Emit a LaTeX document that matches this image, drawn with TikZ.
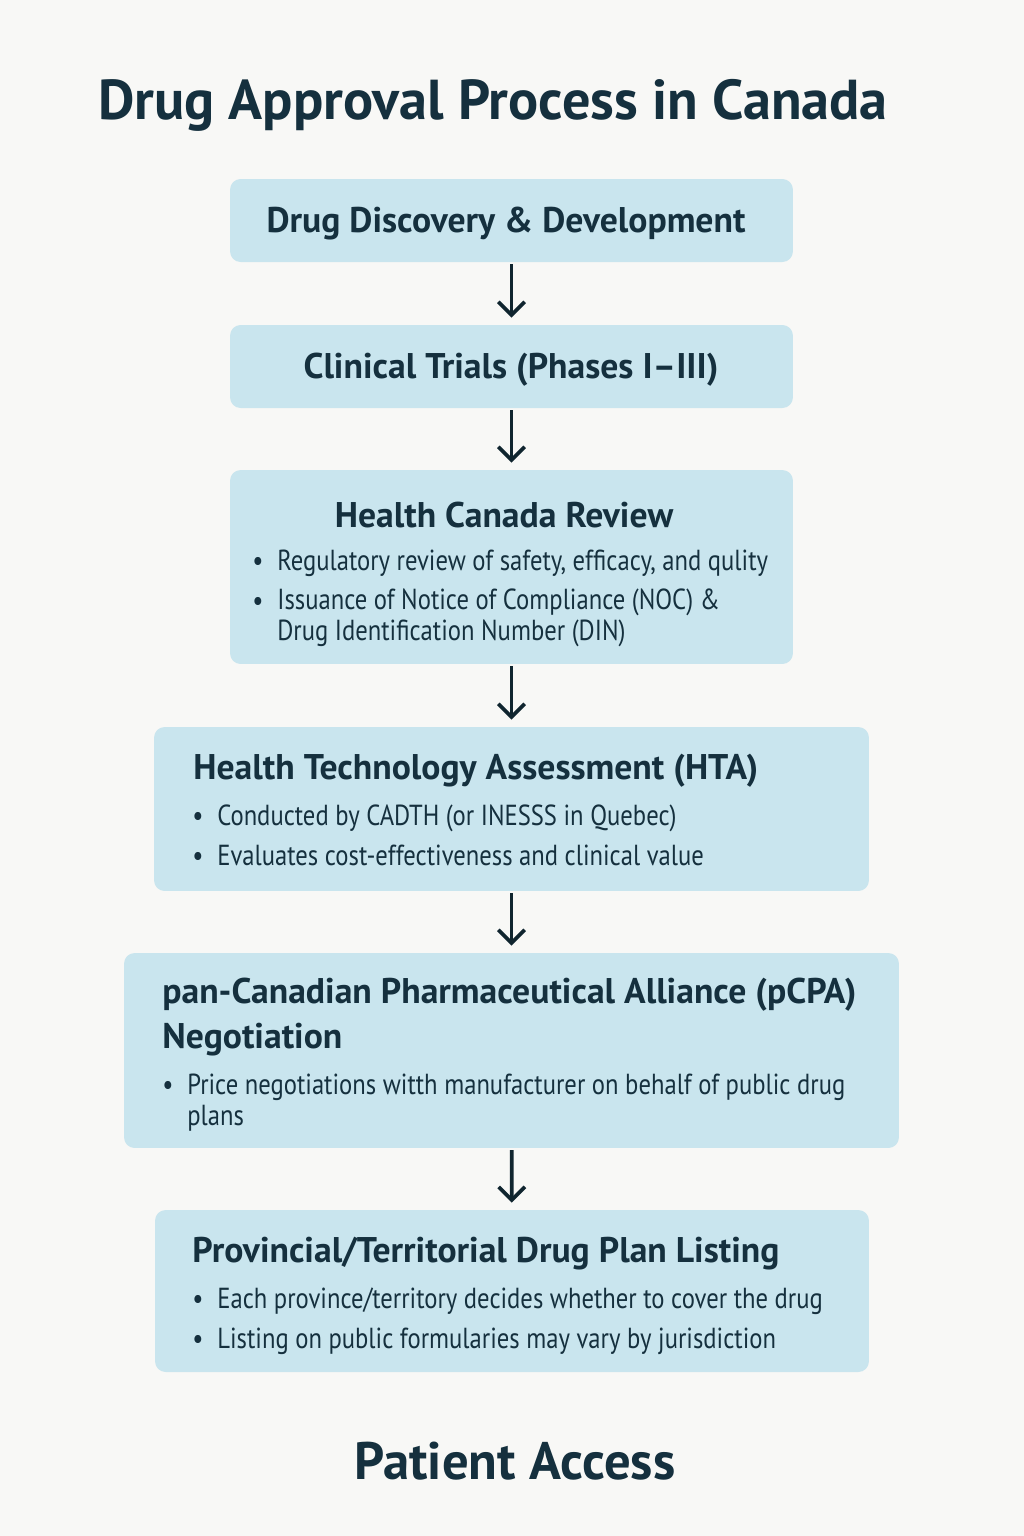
\documentclass[tikz,border=0pt]{standalone}
\usepackage{fontspec}
\setmainfont{PT Sans}
\newfontfamily\headfont[Ligatures=TeX]{PT Sans}
\newfontfamily\bodyfont[Ligatures=TeX,FakeStretch=0.85]{PT Sans}
\usetikzlibrary{arrows.meta,positioning}
\definecolor{Ink}{HTML}{15303E}
\definecolor{InkDark}{HTML}{10252F}
\definecolor{Sky}{HTML}{C9E5EE}
\definecolor{Paper}{HTML}{F8F8F6}

\tikzset{
  stage/.style={rounded corners=6pt,fill=Sky,draw=none},
  head/.style={font=\headfont\fontsize{20.3}{24}\selectfont\bfseries,text=Ink,inner sep=0pt},
  item/.style={font=\bodyfont\fontsize{16.5}{17.4}\selectfont,text=Ink,inner sep=0pt,
               anchor=base west,align=left},
  dot/.style={font=\bodyfont\fontsize{16.5}{17.4}\selectfont,text=Ink,inner sep=0pt,anchor=base},
  flow/.style={InkDark,line width=2.1pt,-{Straight Barb[length=7.5pt,width=15pt]},
               shorten <=1pt,shorten >=4pt},
}

\begin{document}
\begin{tikzpicture}[x=0.02cm,y=-0.02cm]
        \fill[Paper] (0,0) rectangle (1024,1536);
        \useasboundingbox (0,0) rectangle (1024,1536);
        \node[font=\headfont\fontsize{32}{38}\selectfont\bfseries,text=Ink] (title) at (493,105)
              {Drug Approval Process in Canada};

        % stages
        \node[stage,minimum width=11.26cm,minimum height=1.66cm] (disc) at (511.5,220.5) {};
        \node[stage,minimum width=11.26cm,minimum height=1.66cm] (trial) at (511.5,366.5) {};
        \node[stage,minimum width=11.26cm,minimum height=3.88cm] (hc) at (511.5,567) {};
        \node[stage,minimum width=14.30cm,minimum height=3.28cm] (hta) at (511.5,809) {};
        \node[stage,minimum width=15.50cm,minimum height=3.90cm] (pcpa) at (511.5,1050.5) {};
        \node[stage,minimum width=14.28cm,minimum height=3.24cm] (plan) at (512,1291) {};

        \node[head] (discT) at (506,224) {Drug Discovery \& Development};
        \node[head] (trialT) at (511,370) {Clinical Trials (Phases I–III)};
        \node[head] (hcT) at (504,515) {Health Canada Review};
        \node[head,anchor=west] (htaT) at (193,771) {Health Technology Assessment (HTA)};
        \node[head,anchor=west,align=left] (pcpaT) at (162,1017)
              {pan-Canadian Pharmaceutical Alliance (pCPA)\\[2pt]Negotiation};
        \node[head,anchor=west] (planT) at (192,1254) {Provincial/Territorial Drug Plan Listing};

        % bullets: dot x / text x / first baseline / last baseline / text
        \foreach \d/\x/\b/\y/\t in {258/277/570/570/{Regulatory review of safety, efficacy, and qulity},
                                    258/277/610/640/{Issuance of Notice of Compliance (NOC) \&\\Drug Identification Number (DIN)},
                                    198/217/825/825/{Conducted by CADTH (or INESSS in Quebec)},
                                    198/217/865/865/{Evaluates cost-effectiveness and clinical value},
                                    168/187/1094/1125/{Price negotiations witth manufacturer on behalf of public drug\\plans},
                                    198/217/1308/1308/{Each province/territory decides whether to cover the drug},
                                    198/217/1348/1348/{Listing on public formularies may vary by jurisdiction}}{
          \node[dot] at (\d,\b) {\textbullet};
          \node[item] at (\x,\y) {\t};
        }

        \node[font=\headfont\fontsize{30}{36}\selectfont\bfseries,text=Ink] (access) at (515,1461)
              {Patient Access};

        \draw[flow] (disc) -- (trial);
        \draw[flow] (trial) -- (hc);
        \draw[flow] (hc) -- (hta);
        \draw[flow] (hta) -- (pcpa);
        \draw[flow] (pcpa) -- (plan);
\end{tikzpicture}
\end{document}
